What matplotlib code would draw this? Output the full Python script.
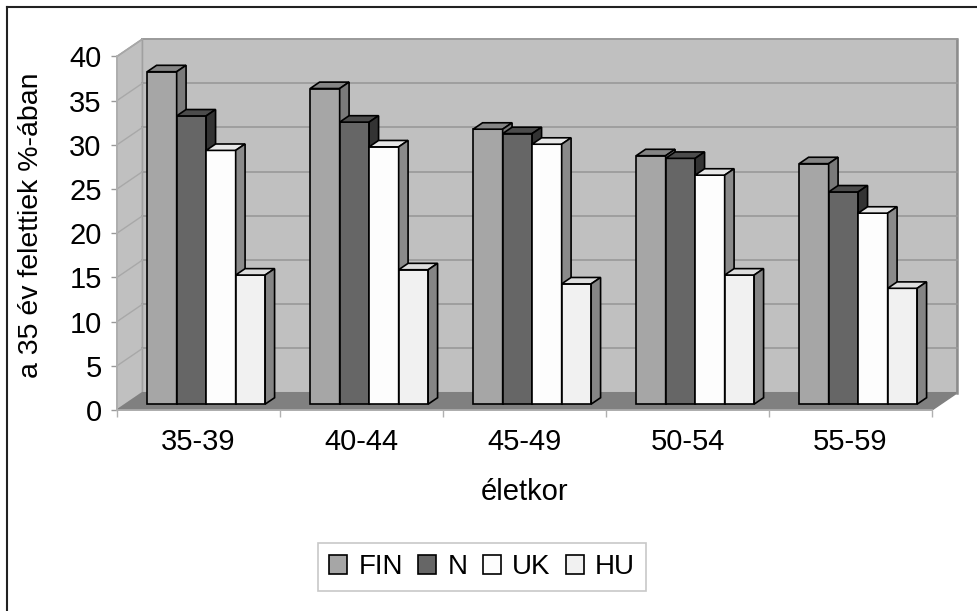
import matplotlib.pyplot as plt
from matplotlib.patches import Polygon, Patch
from matplotlib.lines import Line2D

plt.rcParams['font.family'] = ['Liberation Sans', 'DejaVu Sans']

# Adatok: korcsoportok és országok
korcsoportok = ['35-39', '40-44', '45-49', '50-54', '55-59']
orszagok = ['FIN', 'N', 'UK', 'HU']
fin = [37.6, 35.7, 31.1, 28.1, 27.2]
nor = [32.6, 31.9, 30.6, 27.8, 24.0]
uk = [28.7, 29.1, 29.4, 25.9, 21.6]
hu = [14.6, 15.2, 13.6, 14.6, 13.1]
ertekek = [fin, nor, uk, hu]

# Színek: elülső lap, teteje, oldala
elol = ['#a6a6a6', '#666666', '#fdfdfd', '#f1f1f1']
teto = ['#858585', '#4c4c4c', '#e8e8e8', '#dedede']
oldal = ['#7a7a7a', '#333333', '#8a8a8a', '#858585']

# Térhatás: a hátfal eltolása adategységben
DX, DY = 0.156, 1.96
F0, FD = 0.34, 0.37      # oszlopok mélysége a padlón
ymax = 40

fig = plt.figure(figsize=(9.78, 6.11), dpi=100)
ax = fig.add_axes([0, 0, 1, 1])
ax.set_xlim(-117 / 163 - 0.5, (978 - 117) / 163 - 0.5)
ax.set_ylim(-(611 - 410) / 8.84, 410 / 8.84)

n = len(korcsoportok)
xl, xr = -0.5, n - 0.5

# Hátfal, oldalfal, padló
ax.add_patch(Polygon([(xl + DX, DY), (xr + DX, DY), (xr + DX, ymax + DY), (xl + DX, ymax + DY)],
                     closed=True, facecolor='#c0c0c0', edgecolor='#a0a0a0', lw=1.2, zorder=1))
ax.add_patch(Polygon([(xl, 0), (xl + DX, DY), (xl + DX, ymax + DY), (xl, ymax)],
                     closed=True, facecolor='#c0c0c0', edgecolor='#a0a0a0', lw=1.2, zorder=1))
ax.add_patch(Polygon([(xl, 0), (xr, 0), (xr + DX, DY), (xl + DX, DY)],
                     closed=True, facecolor='#808080', edgecolor='#808080', lw=1, zorder=1))
ax.plot([xr + DX, xr + DX], [DY, ymax + DY], color='#8c8c8c', lw=1.8, zorder=2)

# Rácsvonalak a falakon
for v in range(5, ymax + 1, 5):
    ax.plot([xl + DX, xr + DX], [v + DY, v + DY], color='#999999', lw=1.2, zorder=2)
    ax.plot([xl, xl + DX], [v, v + DY], color='#a8a8a8', lw=1.0, zorder=2)

# Oszlopok
bw = 0.181
kezd = -0.368
bdx, bdy = FD * DX, FD * DY
for c in range(n):
    for i, sor in enumerate(ertekek):
        h = sor[c]
        x0 = c + kezd + i * bw + F0 * DX
        y0 = F0 * DY
        ax.bar(x0, h, width=bw, bottom=y0, align='edge', color=elol[i],
               edgecolor='black', lw=1.2, zorder=3)
        ax.add_patch(Polygon([(x0, y0 + h), (x0 + bw, y0 + h), (x0 + bw + bdx, y0 + h + bdy),
                              (x0 + bdx, y0 + h + bdy)], closed=True, facecolor=teto[i],
                             edgecolor='black', lw=1.2, zorder=3))
        ax.add_patch(Polygon([(x0 + bw, y0), (x0 + bw + bdx, y0 + bdy), (x0 + bw + bdx, y0 + h + bdy),
                              (x0 + bw, y0 + h)], closed=True, facecolor=oldal[i],
                             edgecolor='black', lw=1.2, zorder=3))

# Tengelyek
for s in ['top', 'right']:
    ax.spines[s].set_visible(False)
ax.spines['left'].set_position(('data', xl))
ax.spines['left'].set_bounds(0, ymax)
ax.spines['bottom'].set_position(('data', 0))
ax.spines['bottom'].set_bounds(xl, xr)
for s in ['left', 'bottom']:
    ax.spines[s].set_color('#b0b0b0')
    ax.spines[s].set_linewidth(1.2)
    ax.spines[s].set_zorder(2)

ax.set_yticks(range(0, ymax + 1, 5))
ax.tick_params(axis='y', length=4, width=1, color='#999999', labelsize=21, pad=7)
ax.set_xticks([k - 0.5 for k in range(n + 1)])
ax.set_xticklabels([])
ax.set_xticks(range(n), minor=True)
ax.set_xticklabels(korcsoportok, minor=True)
ax.tick_params(axis='x', which='major', length=5, width=1, color='#b0b0b0')
ax.tick_params(axis='x', which='minor', length=0, labelsize=21, pad=13)

ax.text(525 / 978, 1 - 492 / 611, 'életkor', transform=ax.transAxes,
        ha='center', va='center', fontsize=21)
ax.text(31 / 978, 1 - 225 / 611, 'a 35 év felettiek %-ában', transform=ax.transAxes,
        ha='center', va='center', rotation=90, fontsize=20.5)

# Jelmagyarázat
kezelok = [Patch(facecolor=elol[i], edgecolor='black', lw=1.2) for i in range(len(orszagok))]
leg = ax.legend(kezelok, orszagok, loc='center', bbox_to_anchor=(482 / 978, 1 - 567 / 611),
                bbox_transform=fig.transFigure, ncol=4, fontsize=20, frameon=True,
                fancybox=False, framealpha=1, edgecolor='#c8c8c8', handlelength=0.65,
                handleheight=0.65, handletextpad=0.4, columnspacing=0.55, borderpad=0.4,
                borderaxespad=0)
leg.get_frame().set_linewidth(1.2)

# Keret a diagram körül
fig.add_artist(Line2D([7 / 978, 1], [1 - 7 / 611, 1 - 7 / 611], color='#222222', lw=1.5,
                      transform=fig.transFigure))
fig.add_artist(Line2D([7 / 978, 7 / 978], [0, 1 - 7 / 611], color='#222222', lw=1.5,
                      transform=fig.transFigure))

fig.savefig('out.png', dpi=100)
